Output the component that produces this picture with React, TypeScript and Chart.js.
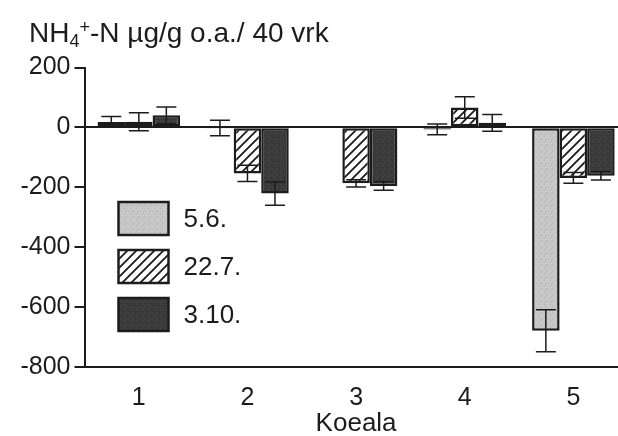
import React, { useEffect, useRef } from "react";
import { Chart, registerables } from "chart.js";

Chart.register(...registerables);

// ---- data ----
const categories = ["1", "2", "3", "4", "5"];
const seriesLabels = ["5.6.", "22.7.", "3.10."];
const series1: (number | null)[] = [18, -2, null, -7, -680];
const series2: (number | null)[] = [19, -154, -187, 66, -169];
const series3: (number | null)[] = [40, -221, -196, 15, -162];
const err1: (number | null)[] = [18, 26, null, 18, 70];
const err2: (number | null)[] = [30, 27, 12, 36, 18];
const err3: (number | null)[] = [28, 39, 14, 28, 14];
const yTickValues = [200, 0, -200, -400, -600, -800];
const axisTitleX = "Koeala";
const titleParts = { main1: "NH", sub: "4", sup: "+", main2: "-N µg/g o.a./ 40 vrk" };

const errors = [err1, err2, err3];
const FONT = "'Liberation Sans', Arial, Helvetica, sans-serif";
const INK = "#1c1c1c";
const CANVAS_W = 640;
const CANVAS_H = 439;

function makeStipple(base: string, dots: string[]): CanvasPattern | string {
  const c = document.createElement("canvas");
  c.width = 6;
  c.height = 6;
  const g = c.getContext("2d");
  if (!g) return base;
  g.fillStyle = base;
  g.fillRect(0, 0, 6, 6);
  const pts = [
    [0, 0, 0], [3, 1, 1], [5, 2, 0], [1, 3, 1], [4, 4, 0], [2, 5, 1], [5, 5, 1], [2, 1, 0],
  ];
  pts.forEach(([x, y, k]) => {
    g.fillStyle = dots[k];
    g.fillRect(x, y, 1, 1);
  });
  return g.createPattern(c, "repeat") || base;
}

function makeHatch(): CanvasPattern | string {
  const s = 9;
  const c = document.createElement("canvas");
  c.width = s;
  c.height = s;
  const g = c.getContext("2d");
  if (!g) return "#fff";
  g.fillStyle = "#ffffff";
  g.fillRect(0, 0, s, s);
  g.strokeStyle = "#1a1a1a";
  g.lineWidth = 1.8;
  g.beginPath();
  g.moveTo(-1, s + 1);
  g.lineTo(s + 1, -1);
  g.moveTo(-2, 2);
  g.lineTo(2, -2);
  g.moveTo(s - 2, s + 2);
  g.lineTo(s + 2, s - 2);
  g.stroke();
  return g.createPattern(c, "repeat") || "#fff";
}

const errorBarPlugin = {
  id: "errorBars",
  afterDatasetsDraw(chart: any) {
    const ctx = chart.ctx;
    const ys = chart.scales.y;
    chart.data.datasets.forEach((ds: any, di: number) => {
      const meta = chart.getDatasetMeta(di);
      const errs = errors[di];
      meta.data.forEach((bar: any, i: number) => {
        const v = ds.data[i];
        const e = errs[i];
        if (v == null || e == null) return;
        const x = bar.x;
        const yTop = ys.getPixelForValue(v + e);
        const yBot = ys.getPixelForValue(v - e);
        ctx.save();
        ctx.strokeStyle = INK;
        ctx.lineWidth = 1.5;
        ctx.beginPath();
        ctx.moveTo(x, yTop);
        ctx.lineTo(x, yBot);
        ctx.moveTo(x - 10, yTop);
        ctx.lineTo(x + 10, yTop);
        ctx.moveTo(x - 10, yBot);
        ctx.lineTo(x + 10, yBot);
        ctx.stroke();
        ctx.restore();
      });
    });
  },
};

const legendPlugin = {
  id: "boxLegend",
  afterDraw(chart: any) {
    const ctx = chart.ctx;
    const left = chart.chartArea.left + 34;
    const top0 = 202;
    chart.data.datasets.forEach((ds: any, i: number) => {
      const y = top0 + i * 48;
      ctx.save();
      ctx.fillStyle = ds.backgroundColor;
      ctx.fillRect(left, y, 50, 33);
      ctx.strokeStyle = INK;
      ctx.lineWidth = 2.5;
      ctx.strokeRect(left, y, 50, 33);
      ctx.fillStyle = INK;
      ctx.font = `26px ${FONT}`;
      ctx.textBaseline = "middle";
      ctx.textAlign = "left";
      ctx.fillText(ds.label, left + 65, y + 18);
      ctx.restore();
    });
  },
};

const titlePlugin = {
  id: "chemTitle",
  afterDraw(chart: any) {
    const ctx = chart.ctx;
    ctx.save();
    ctx.fillStyle = INK;
    ctx.textBaseline = "alphabetic";
    ctx.textAlign = "left";
    let x = 29;
    const base = 42;
    ctx.font = `28px ${FONT}`;
    ctx.fillText(titleParts.main1, x, base);
    x += ctx.measureText(titleParts.main1).width;
    ctx.font = `18px ${FONT}`;
    ctx.fillText(titleParts.sub, x, base + 5);
    x += ctx.measureText(titleParts.sub).width;
    ctx.fillText(titleParts.sup, x, base - 9);
    x += ctx.measureText(titleParts.sup).width;
    ctx.font = `28px ${FONT}`;
    ctx.fillText(titleParts.main2, x, base);
    ctx.restore();
  },
};

export default function App() {
  const ref = useRef<HTMLCanvasElement | null>(null);

  useEffect(() => {
    if (!ref.current) return;
    const fill1 = makeStipple("#c6c6c6", ["#b2b2b2", "#d6d6d6"]);
    const fill2 = makeHatch();
    const fill3 = makeStipple("#3b3b3b", ["#4a4a4a", "#2e2e2e"]);
    const fills = [fill1, fill2, fill3];
    const allSeries = [series1, series2, series3];

    const chart = new Chart(ref.current, {
      type: "bar",
      data: {
        labels: categories,
        datasets: allSeries.map((d, i) => ({
          label: seriesLabels[i],
          data: d,
          backgroundColor: fills[i] as any,
          borderColor: INK,
          borderWidth: 2.5,
          borderSkipped: false,
          categoryPercentage: 0.76,
          barPercentage: 1.0,
        })),
      },
      options: {
        animation: false,
        responsive: false,
        devicePixelRatio: 1,
        layout: { padding: { left: 0, top: 67.5, right: 12.3, bottom: 0 } },
        plugins: {
          legend: { display: false },
          title: { display: false },
          tooltip: { enabled: false },
        },
        scales: {
          x: {
            type: "category",
            grid: { display: true, drawOnChartArea: false, drawTicks: false },
            border: { display: true, color: INK, width: 2 },
            ticks: {
              color: INK,
              font: { family: FONT, size: 25 },
              padding: 16,
            },
            title: {
              display: true,
              text: axisTitleX,
              color: INK,
              font: { family: FONT, size: 26 },
              padding: { top: 0, bottom: 0 },
            },
            afterFit(scale: any) {
              scale.height = CANVAS_H - 366.7;
            },
          },
          y: {
            type: "linear",
            min: -800,
            max: 200,
            afterBuildTicks(scale: any) {
              scale.ticks = yTickValues.map((v) => ({ value: v }));
            },
            grid: {
              drawOnChartArea: true,
              drawTicks: true,
              tickLength: 10,
              tickWidth: 2,
              tickColor: INK,
              lineWidth: 2,
              color: (c: any) => (c.tick && c.tick.value === 0 ? INK : "rgba(0,0,0,0)"),
            },
            border: { display: true, color: INK, width: 2 },
            ticks: {
              color: INK,
              font: { family: FONT, size: 25 },
              padding: 4,
            },
            afterFit(scale: any) {
              scale.width = 84.5;
            },
          },
        },
      },
      plugins: [errorBarPlugin, legendPlugin, titlePlugin],
    });
    return () => chart.destroy();
  }, []);

  return (
    <div
      style={{
        position: "fixed",
        left: 0,
        top: 0,
        width: 618,
        height: 436,
        overflow: "hidden",
        background: "#ffffff",
      }}
    >
      <canvas ref={ref} width={CANVAS_W} height={CANVAS_H} style={{ display: "block" }} />
    </div>
  );
}
